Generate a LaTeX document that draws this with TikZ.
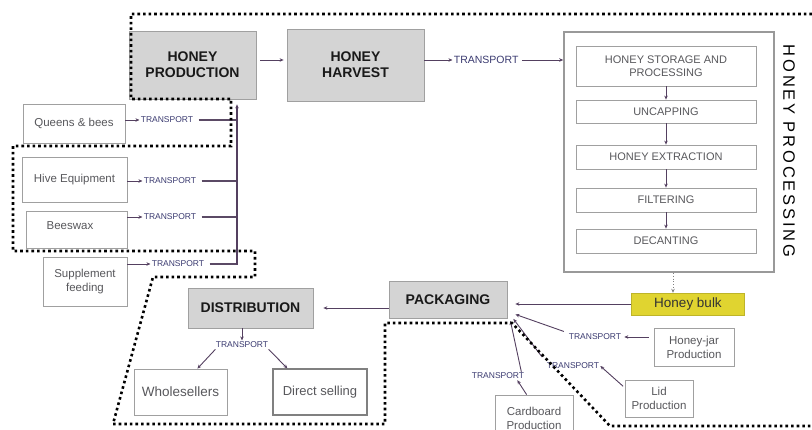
\documentclass[tikz,border=0pt]{standalone}
\usepackage{fontspec}
\setmainfont{Liberation Sans}
\newfontfamily\trackfont[LetterSpace=17]{Liberation Sans}
\usetikzlibrary{arrows.meta}
\definecolor{linec}{RGB}{84,64,96}
\definecolor{boxgray}{RGB}{212,212,212}
\definecolor{edgegray}{RGB}{160,160,160}
\definecolor{txtgray}{RGB}{88,88,92}
\definecolor{tcol}{RGB}{58,58,112}
\definecolor{bulkyel}{RGB}{224,212,48}
\begin{document}
\begin{tikzpicture}[x=1pt,y=-1pt,
  stage/.style={draw=edgegray,line width=0.8pt,fill=boxgray,text=black!90,font=\fontsize{14}{16}\selectfont\bfseries,align=center,inner sep=0pt},
  inbox/.style={draw=edgegray,line width=0.8pt,fill=white,text=txtgray,font=\fontsize{11.5}{14}\selectfont,align=center,inner sep=0pt},
  tlab/.style={text=tcol,font=\fontsize{8.5}{9}\selectfont,inner sep=1pt},
  arr/.style={draw=linec,line width=0.9pt,-{Stealth[length=4pt,width=3.5pt]}},
  ln/.style={draw=linec!85!gray,line width=1.2pt},
  border/.style={line width=2.6pt,dash pattern=on 2.6pt off 3pt}]
\clip (0,0) rectangle (812,430);
\node[stage,minimum width=127,minimum height=68] (prod) at (192.5,65) {HONEY\\PRODUCTION};
\node[stage,minimum width=137,minimum height=72] (harv) at (355.5,65) {HONEY\\HARVEST};
\node[draw=gray!80,line width=1.6pt,minimum width=210,minimum height=240] (proc) at (669,152) {};
\node[rotate=-90,font=\trackfont\fontsize{16.5}{17}\selectfont] (proclab) at (789,151) {HONEY PROCESSING};
\foreach \n/\y/\h/\t in {stor/66/40/{HONEY STORAGE AND\\PROCESSING},uncap/111.5/23/UNCAPPING,extr/157/24/{HONEY EXTRACTION},filt/200/24/FILTERING,dec/241/24/DECANTING}
  \node[inbox,font=\fontsize{11}{13}\selectfont,minimum width=180,minimum height=\h] (\n) at (666,\y) {\t};
\foreach \a/\b in {stor/uncap,uncap/extr,extr/filt,filt/dec}
  \draw[arr] (\a) -- (\b);
\node[fill=bulkyel,draw=bulkyel!85!black,line width=0.4pt,minimum width=113,minimum height=22,font=\fontsize{13.5}{15}\selectfont,text=black!80] (bulk) at (688,304) {Honey bulk};
\coordinate (bk) at (673,0);
\draw[arr,draw=gray,dotted,line width=0.8pt] (proc.south -| bk) -- (bulk.north -| bk);
\node[stage,minimum width=118,minimum height=37] (pack) at (448,300) {PACKAGING};
\node[stage,minimum width=125,minimum height=40] (dist) at (250.5,308) {DISTRIBUTION};
\draw[arr,shorten >=8pt] (bulk.west) -- (bulk.west -| pack.east);
\draw[arr,shorten >=10pt] (pack.west |- dist.east) -- (dist.east);
\draw[arr] ([xshift=-8.5pt]dist.south) -- ++(0,12) node[tlab,anchor=north] (tdist) {TRANSPORT};
\node[inbox,font=\fontsize{13.5}{15}\selectfont,minimum width=93,minimum height=46] (whole) at (180.5,392) {Wholesellers};
\node[inbox,draw=gray,line width=1.2pt,font=\fontsize{13}{15}\selectfont,minimum width=94,minimum height=46] (direct) at (320,392) {Direct selling};
\draw[arr] ([xshift=1pt]tdist.south west) -- ([xshift=-30pt]whole.north east);
\draw[arr] ([xshift=-1pt]tdist.south east) -- ([xshift=15pt]direct.north west);
\node[inbox,minimum width=80,minimum height=38] (jar) at (694,347) {Honey-jar\\Production};
\node[inbox,minimum width=68,minimum height=37] (lid) at (659,398.5) {Lid\\Production};
\node[inbox,minimum width=78,minimum height=46] (card) at (534,418) {Cardboard\\Production};
\node[tlab] (tjar) at (595,337) {TRANSPORT};
\node[tlab] (tlid) at (573,366) {TRANSPORT};
\node[tlab] (tcard) at (498,376) {TRANSPORT};
\draw[arr,shorten <=5pt,shorten >=2pt] (jar.west |- tjar.east) -- (tjar.east);
\draw[arr,shorten <=2pt] ([yshift=-8pt]lid.north west) -- (tlid.east);
\draw[arr] ([xshift=32pt]card.north west) -- ([xshift=-8pt]tcard.south east);
\draw[arr,shorten <=4pt] (tjar.north west) -- ([shift={(8pt,4.5pt)}]pack.south east);
\draw[arr,shorten <=6pt] (tlid.north west) -- ([xshift=6pt]pack.south east);
\draw[arr] ([xshift=-4pt]tcard.north east) -- ([shift={(3pt,-2pt)}]pack.south east);
\node[inbox,minimum width=102,minimum height=39] (queen) at (74,123.5) {Queens \& bees};
\node[inbox,minimum width=105,minimum height=45] (hive) at (74.5,179.5) {Hive Equipment};
\node[inbox,minimum width=101,minimum height=37] (bees) at (76.5,229.5) {};
\node[text=txtgray,font=\fontsize{11.5}{14}\selectfont] (beestxt) at (70,226) {Beeswax};
\node[inbox,minimum width=84,minimum height=49] (supp) at (85,281.5) {Supplement\\feeding};
\coordinate (trunk) at (237,265);
\foreach \n/\y/\l/\d in {queen/120/tq/14,hive/181/th/15,bees/217/tb/15,supp/264/ts/23}{
  \coordinate (r\l) at (0,\y);
  \draw[arr] (\n.east |- r\l) -- ++(\d,0) node[tlab,anchor=west] (\l) {TRANSPORT};
  \draw[ln,shorten <=4pt] (\l.east) -- (\l.east -| trunk);
}
\draw[arr,line width=1.2pt,shorten >=5pt] (trunk) -- (trunk |- prod.south);
\coordinate (top) at (0,60);
\draw[arr,shorten <=4pt,shorten >=3pt] (prod.east |- top) -- (harv.west |- top);
\draw[arr] (harv.east |- top) -- ++(28,0) node[tlab,anchor=west,font=\fontsize{10.5}{11}\selectfont] (tharv) {TRANSPORT};
\draw[arr,shorten <=2pt] (tharv.east) -- (proc.west |- tharv.east);
\draw[border] (812,14) -- (131,14) -- (131,99) -- (231,99) -- (231,146) -- (13,146) -- (13,251) -- (255,251) -- (255,277) -- (153,277) -- (113,424) -- (385,424) -- (385,323) -- (512,323) -- (610,426) -- (812,426);
\end{tikzpicture}
\end{document}
